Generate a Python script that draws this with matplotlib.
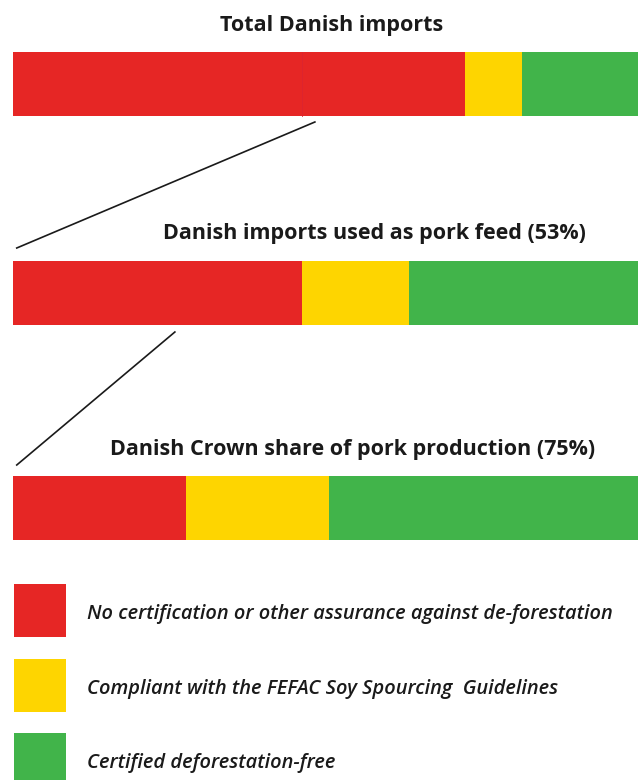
import matplotlib.pyplot as plt
from matplotlib.patches import Rectangle

# share of each bar (percent of bar width)
titles = ['Total Danish imports',
          'Danish imports used as pork feed (53%)',
          'Danish Crown share of pork production (75%)']
no_cert = [72.3, 46.2, 27.7]
fefac = [9.1, 17.1, 22.9]
certified = [18.6, 36.7, 49.4]
pork_split = 46.2   # faint divider in the top bar

legend_labels = ['No certification or other assurance against de-forestation',
                 'Compliant with the FEFAC Soy Spourcing  Guidelines',
                 'Certified deforestation-free']
colors = ['#e62625', '#fed500', '#41b44a']

plt.rcParams['font.family'] = ['Open Sans', 'DejaVu Sans']

W, H = 638, 780
fig = plt.figure(figsize=(W / 100, H / 100), dpi=100)

# bars axes, x in percent, y in pixels from the top
ax = fig.add_axes([13 / W, 0, 625 / W, 1])
ax.set_xlim(0, 100)
ax.set_ylim(H, 0)
ax.axis('off')

bar_y = [84, 293, 508]
title_y = [25, 234, 450]
title_x = [51.0, 57.9, 54.4]

ax.barh(bar_y, no_cert, height=64, color=colors[0], linewidth=0)
ax.barh(bar_y, fefac, left=no_cert, height=64, color=colors[1], linewidth=0)
left2 = [a + b for a, b in zip(no_cert, fefac)]
ax.barh(bar_y, certified, left=left2, height=64, color=colors[2], linewidth=0)
ax.plot([pork_split, pork_split], [bar_y[0] - 32, bar_y[0] + 32], color='#dc2430', lw=0.6)

for t, x, y in zip(titles, title_x, title_y):
    ax.text(x, y, t, ha='center', va='center', fontsize=15.5, fontweight='bold', color='#1a1a1a')

# connector lines
ax.plot([48.3, 0.6], [122, 248], color='#1a1a1a', lw=1.2)
ax.plot([25.9, 0.6], [332, 465], color='#1a1a1a', lw=1.2)

# legend in pixel coordinates
lax = fig.add_axes([0, 0, 1, 1])
lax.set_xlim(0, W)
lax.set_ylim(H, 0)
lax.axis('off')
sq_top = [584, 659, 733]
for c, lab, top in zip(colors, legend_labels, sq_top):
    lax.add_patch(Rectangle((14, top), 52, 53, color=c, lw=0))
    lax.text(87, top + 30, lab, ha='left', va='center', fontsize=14.4,
             fontweight='semibold', style='italic', color='#1a1a1a')

fig.savefig('out.png', dpi=100)
